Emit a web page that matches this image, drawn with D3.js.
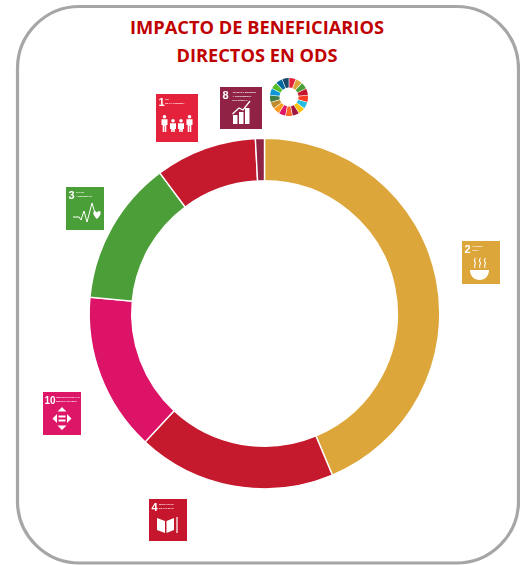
<!DOCTYPE html>
<html><head><meta charset="utf-8">
<script src="https://cdn.jsdelivr.net/npm/d3@7/dist/d3.min.js"></script>
<style>html,body{margin:0;padding:0;background:#fff}svg{display:block}</style></head>
<body><svg id="c" width="520" height="565"></svg>
<script>
const titleLines = ["IMPACTO DE BENEFICIARIOS", "DIRECTOS EN ODS"];
const goals = ["2", "4", "10", "3", "1", "8"];
const shares = [43.67, 18.25, 14.56, 13.33, 9.36, 0.83];
const colors = ["#dda63a", "#c5192d", "#dd1367", "#4c9f38", "#c5192d", "#8f2344"];
const tileColors = ["#dda63a", "#c5192d", "#dd1367", "#4c9f38", "#e5243b", "#8f2344"];
const tileLabels = [["HAMBRE","CERO"],["EDUCACIÓN","DE CALIDAD"],["REDUCCIÓN DE LAS","DESIGUALDADES"],["SALUD","Y BIENESTAR"],["FIN","DE LA POBREZA"],["TRABAJO DECENTE","Y CRECIMIENTO","ECONÓMICO"]];
const tileBoxes = [[462,241,38,43],[149,499,38,42],[43,392,38,43],[66,187,38,43],[156,94,42,48],[220,87,42,42]];
const labelOffsets = [10, 10, 13, 10, 9, 12.5];
const wheelColors = ["#e5243b","#dda63a","#4c9f38","#c5192d","#ff3a21","#26bde2","#fcc30b","#a21942","#fd6925","#dd1367","#fd9d24","#bf8b2e","#3f7e44","#0a97d9","#56c02b","#00689d","#19486a"];

const svg = d3.select("#c");
const defs = svg.append("defs");
defs.append("filter").attr("id","soft").append("feGaussianBlur").attr("stdDeviation",0.5);

svg.append("rect").attr("x",17.5).attr("y",6.5).attr("width",501).attr("height",556.5).attr("rx",62).attr("ry",62)
  .attr("fill","#fff").attr("stroke","#a6a6a6").attr("stroke-width",3.2);

const title = svg.append("g").attr("text-anchor","middle").attr("fill","#c00000")
  .attr("font-family","'Open Sans','Liberation Sans',sans-serif").attr("font-weight",700).attr("font-size",18);
title.selectAll("text").data(titleLines).join("text")
  .attr("x",257).attr("y",(d,i)=>34+i*27.5).attr("textLength",(d,i)=>i?161:254).attr("lengthAdjust","spacingAndGlyphs").text(d=>d);

const pie = d3.pie().sort(null).value(d=>d)(shares);
const arc = d3.arc().innerRadius(132.8).outerRadius(175.3);
svg.append("g").attr("transform","translate(264.5,313.5)").selectAll("path").data(pie).join("path")
  .attr("d",arc).attr("fill",(d,i)=>colors[i]).attr("stroke","#fff").attr("stroke-width",1.4);

const icon = {
  "2": g=>{
    g.append("path").attr("d","M8 29H27C27 35 23 39 17.500 39S8 35 8 29Z").attr("fill","#fff");
    g.selectAll("path.s").data([13,18,23]).join("path").attr("class","s")
      .attr("d",x=>`M${x} 27c-2-3 2-4 0-6s1-3 0-4`).attr("fill","none").attr("stroke","#fff").attr("stroke-width",1.1);
  },
  "4": g=>{
    g.append("path").attr("d","M8 19L16 22V34L8 31ZM17.500 22L25 19V31L17.500 34Z").attr("fill","#fff");
    g.append("path").attr("d","M28 18V34").attr("stroke","#fff").attr("stroke-width",1.2);
  },
  "10": g=>{
    g.append("path").attr("d","M19 15l4.500 4.500h-9ZM19 38l4.500-4.500h-9ZM9.500 26.500l4.500-4.500v9ZM28.500 26.500l-4.500-4.500v9Z").attr("fill","#fff");
    g.append("path").attr("d","M15.500 24.500H22.500M15.500 28.500H22.500").attr("stroke","#fff").attr("stroke-width",2);
  },
  "3": g=>{
    g.append("path").attr("d","M7 30H13L15 33L18 24L21 35L26 16L29 26").attr("fill","none").attr("stroke","#fff").attr("stroke-width",1);
    g.append("path").attr("d","M31 32C26.500 28 26.500 24 29 24C30 24 31 25 31 26C31 25 32 24 33 24C35.500 24 35.500 28 31 32Z").attr("fill","#fff");
  },
  "1": g=>{
    g.selectAll("g").data([[8.5,21],[17,25],[25,25],[33.5,21]]).join("g").each(function(d){
      const p = d3.select(this), x = d[0], top = d[1];
      p.append("circle").attr("cx",x).attr("cy",top+1.7).attr("r",1.8).attr("fill","#fff");
      p.append("path").attr("d",`M${x-3} ${top+4.2}H${x+3}V${top+10}H${x+1.8}V38H${x+0.3}V${top+11}H${x-0.3}V38H${x-1.8}V${top+10}H${x-3}Z`).attr("fill","#fff");
    });
  },
  "8": g=>{
    g.selectAll("rect").data([[13,28,9],[19,25,12],[25,21,16]]).join("rect")
      .attr("x",d=>d[0]).attr("y",d=>d[1]).attr("width",4.5).attr("height",d=>d[2]).attr("fill","#fff");
    g.append("path").attr("d","M12.500 27L19 21L23 23L30 14").attr("fill","none").attr("stroke","#fff").attr("stroke-width",1.3);
  }
};

const tiles = svg.append("g").attr("filter","url(#soft)").selectAll("g").data(goals).join("g")
  .attr("transform",(d,i)=>`translate(${tileBoxes[i][0]},${tileBoxes[i][1]})`);
tiles.append("rect").attr("width",(d,i)=>tileBoxes[i][2]).attr("height",(d,i)=>tileBoxes[i][3]).attr("fill",(d,i)=>tileColors[i]);
tiles.append("text").attr("x",d=>d.length>1?1.5:2.5).attr("y",12).attr("fill","#fff")
  .attr("font-family","'Liberation Sans',sans-serif").attr("font-weight",700).attr("font-size",d=>d.length>1?10:11).text(d=>d);
tiles.each(function(d,i){
  const g = d3.select(this);
  g.append("g").attr("fill","#fff").attr("font-family","'Liberation Sans',sans-serif").attr("font-weight",700).attr("font-size",2.4)
    .selectAll("text").data(tileLabels[i]).join("text").attr("x",labelOffsets[i]).attr("y",(t,k)=>6+k*4.2).text(t=>t);
  icon[d](g.append("g"));
});

const wheel = d3.pie().sort(null).value(1).padAngle(0.03)(wheelColors);
svg.append("g").attr("transform","translate(289,97)").attr("filter","url(#soft)").selectAll("path").data(wheel).join("path")
  .attr("d",d3.arc().innerRadius(9.5).outerRadius(19)).attr("fill",(d,i)=>wheelColors[i]);
</script></body></html>
